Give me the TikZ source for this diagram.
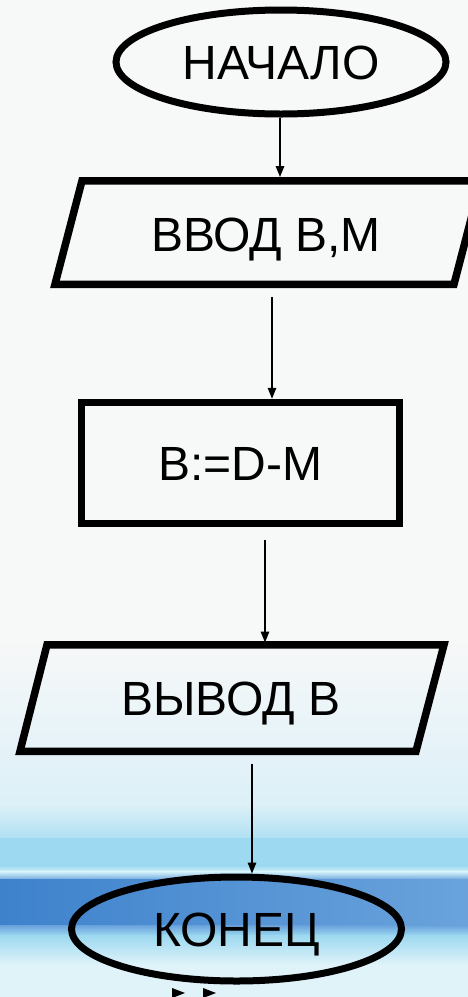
\documentclass[tikz,border=0pt]{standalone}
\usepackage{fontspec}
\setmainfont{Liberation Sans}
\usetikzlibrary{shapes.geometric,arrows.meta}
\definecolor{bgpale}{HTML}{F7F8F8}
\definecolor{bglight}{HTML}{DCF0F8}
\definecolor{bgcyan}{HTML}{9DD9F0}
\definecolor{bgbright}{HTML}{D5F3FB}
\definecolor{bgblueL}{HTML}{3E82CC}
\definecolor{bgblueR}{HTML}{6AA3DC}
\definecolor{bglow}{HTML}{E0F3F9}
\tikzset{
  txt/.style={font=\fontsize{48}{52}\selectfont, text height=34.4pt, text depth=0pt, inner sep=0pt},
  term/.style={txt, ellipse, draw, line width=7pt, minimum width=330pt, minimum height=104pt},
  proc/.style={txt, rectangle, draw, line width=7.5pt, minimum width=318pt, minimum height=121pt},
  io/.style={txt, rectangle, minimum width=360pt, minimum height=111pt, outer sep=0pt},
  ioline/.style={line width=7.5pt, line join=miter},
  arr/.style={line width=1.5pt, -{Triangle[length=11pt,width=8.5pt]}},
}
\begin{document}
\begin{tikzpicture}[x=1pt,y=-1pt]
% background
\useasboundingbox (0,0) rectangle (468,997);
\fill[bgpale] (0,0) rectangle (468,640);
\shade[top color=bgpale, bottom color=bglight] (0,639.5) rectangle (468,805);
\shade[top color=bglight, bottom color=bgcyan!80] (0,804.5) rectangle (468,838);
\fill[bgcyan] (0,837.5) rectangle (468,866);
\shade[top color=bgcyan, bottom color=bgbright] (0,865.5) rectangle (468,872);
\shade[top color=bgbright, bottom color=bgblueR] (0,871.5) rectangle (468,880);
\shade[left color=bgblueL, right color=bgblueR] (0,879.5) rectangle (468,926);
\shade[top color=bgblueR, bottom color=bgcyan] (0,925.5) rectangle (468,936);
\shade[top color=bgcyan, bottom color=bglow] (0,935.5) rectangle (468,965);
\fill[bglow] (0,964.5) rectangle (468,997);

% nodes
\node[term] (start) at (281,62) {НАЧАЛО};
\node[io] (in1) at (268,232.5) {};
\node[txt] (in1t) at (266,234) {ВВОД В,М};
\node[proc] (calc) at (240.5,463) {B:=D-M};
\node[io] (out) at (231,698) {};
\node[txt] (outt) at (231,698) {ВЫВОД В};
\node[term] (stop) at (236.5,929) {КОНЕЦ};

% parallelograms
\draw[ioline] (82,180.75) -- (481,180.75) -- (454,284.25) -- (55,284.25) -- cycle;
\draw[ioline] (47,644.75) -- (444,644.75) -- (416,751.25) -- (20,751.25) -- cycle;

% connectors
\draw[arr] ([xshift=-1pt]start.south) -- ([xshift=-1pt]start.south |- in1.north);
\draw[arr] ([xshift=4pt,yshift=-9pt]in1.south) -- ([xshift=4pt]in1.south |- calc.north);
\draw[arr] ([xshift=24.5pt,yshift=-13pt]calc.south) -- ([xshift=24.5pt]calc.south |- out.north);
\draw[arr] ([xshift=21pt,yshift=-10pt]out.south) -- ([xshift=21pt]out.south |- stop.north);

% navigation marks at the bottom edge
\fill (172,988) -- (185,993) -- (172,998) -- cycle;
\fill (203,988) -- (216,993) -- (203,998) -- cycle;
\end{tikzpicture}
\end{document}
